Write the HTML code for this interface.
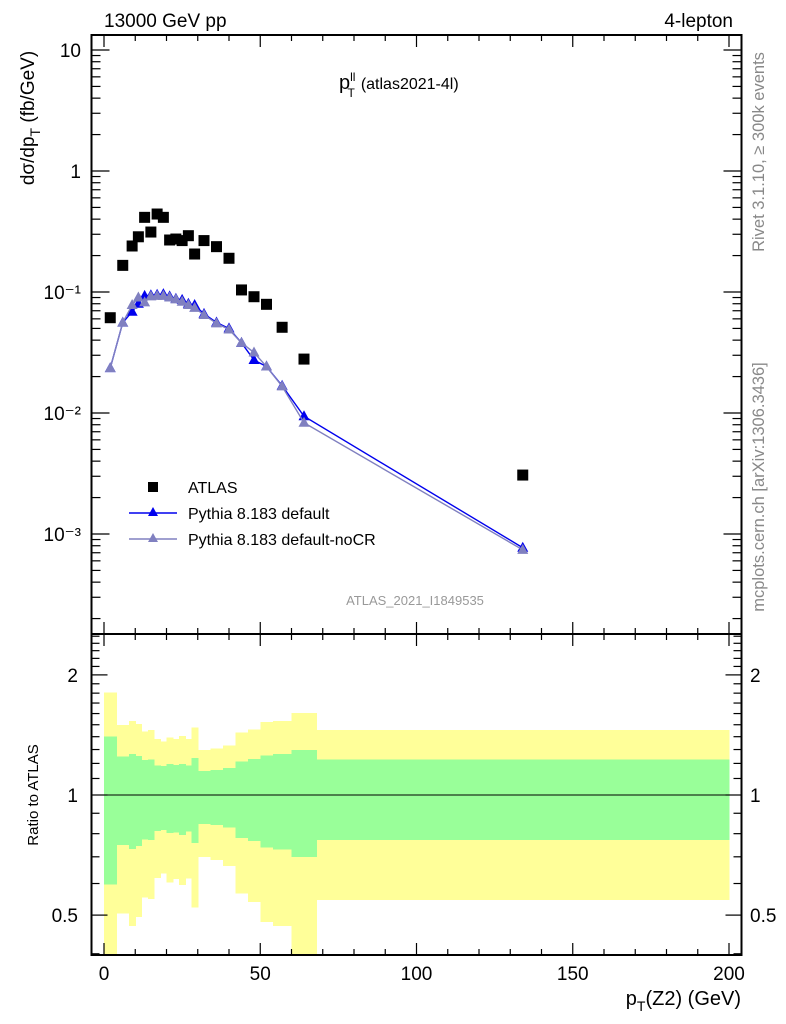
<!DOCTYPE html>
<html><head><meta charset="utf-8"><style>
html,body{margin:0;padding:0;background:#fff;}
svg{display:block;font-family:"Liberation Sans",sans-serif;}
</style></head><body>
<svg id="chart" width="786" height="1024" viewBox="0 0 786 1024" xmlns="http://www.w3.org/2000/svg">
<g id="gBands" shape-rendering="crispEdges"></g>
<g id="gMain"></g>
<g id="gAxes"></g>
<text x="104" y="27" font-size="19">13000 GeV pp</text>
<text x="733" y="27" font-size="19" text-anchor="end">4-lepton</text>
<text x="339" y="89" font-size="20">p<tspan font-size="12" dy="-8">ll</tspan><tspan font-size="12" dx="-8" dy="16">T</tspan><tspan font-size="16" dx="6" dy="-8">(atlas2021-4l)</tspan></text>
<text transform="translate(34,118) rotate(-90)" font-size="19" text-anchor="middle">dσ/dp<tspan font-size="14" dy="6">T</tspan><tspan dy="-6"> (fb/GeV)</tspan></text>
<text transform="translate(38,795) rotate(-90)" font-size="15" text-anchor="middle">Ratio to ATLAS</text>
<text x="741" y="1005" font-size="20" text-anchor="end">p<tspan font-size="14" dy="6">T</tspan><tspan dy="-6">(Z2) (GeV)</tspan></text>
<text transform="translate(764,152) rotate(-90)" font-size="16.5" fill="#888" text-anchor="middle">Rivet 3.1.10, ≥ 300k events</text>
<text transform="translate(764,487) rotate(-90)" font-size="16.5" fill="#888" text-anchor="middle">mcplots.cern.ch [arXiv:1306.3436]</text>
<text x="415" y="605" font-size="13" fill="#999" text-anchor="middle">ATLAS_2021_I1849535</text>
<g>
<rect x="148" y="482" width="10" height="10" fill="#000"/>
<text x="188" y="493" font-size="16">ATLAS</text>
<line x1="129" y1="513" x2="177" y2="513" stroke="#0000ee" stroke-width="1.5"/>
<path d="M153,507 L158,516 L148,516 Z" fill="#0000ee"/>
<text x="188" y="519" font-size="16">Pythia 8.183 default</text>
<line x1="129" y1="539" x2="177" y2="539" stroke="#8080c0" stroke-width="1.5"/>
<path d="M153,533 L158,542 L148,542 Z" fill="#8080c0"/>
<text x="188" y="545" font-size="16">Pythia 8.183 default-noCR</text>
</g>
</svg>
<script>
var binEdges=[0,4,8,10,12,14,16,18,20,22,24,26,28,30,34,38,42,46,50,54,60,68,200];
var xPoints=[2,6,9,11,13,15,17,19,21,23,25,27,29,32,36,40,44,48,52,57,64,134];
var atlasValues=[0.0613,0.166,0.240,0.286,0.414,0.313,0.441,0.414,0.269,0.274,0.266,0.292,0.206,0.266,0.237,0.190,0.104,0.0914,0.0791,0.0511,0.0279,0.00307];
var defaultValues=[0.0235,0.0558,0.0687,0.080,0.093,0.094,0.095,0.096,0.092,0.088,0.086,0.080,0.078,0.066,0.056,0.050,0.038,0.0274,0.0242,0.0168,0.0094,0.00077];
var nocrValues=[0.0235,0.0558,0.078,0.090,0.082,0.092,0.093,0.093,0.090,0.087,0.083,0.078,0.074,0.0646,0.055,0.049,0.038,0.0316,0.0242,0.0166,0.0083,0.00074];
var yellowHi=[1.805,1.498,1.533,1.507,1.444,1.455,1.381,1.360,1.395,1.381,1.405,1.381,1.478,1.297,1.306,1.332,1.433,1.461,1.524,1.533,1.603,1.455];
var greenHi=[1.400,1.247,1.267,1.252,1.224,1.229,1.187,1.182,1.196,1.189,1.196,1.187,1.238,1.149,1.155,1.169,1.215,1.231,1.257,1.267,1.297,1.229];
var greenLo=[0.597,0.749,0.732,0.745,0.774,0.771,0.812,0.817,0.802,0.806,0.794,0.809,0.759,0.846,0.841,0.828,0.780,0.767,0.738,0.731,0.699,0.771];
var yellowLo=[0.38,0.505,0.469,0.494,0.554,0.548,0.620,0.636,0.603,0.616,0.595,0.618,0.522,0.700,0.687,0.664,0.567,0.540,0.481,0.470,0.38,0.545];
var xTicks=[0,50,100,150,200];
var mainTicks=[1e-3,1e-2,1e-1,1,10];
var mainTickLabels=["10\u207B\u00B3","10\u207B\u00B2","10\u207B\u00B9","1","10"];
var ratioTicks=[0.5,1,2];
var ratioTickLabels=["0.5","1","2"];

(function(){
var NS="http://www.w3.org/2000/svg";
var PL=91.5,PR=741.5,PT=35,PMB=634,PB=955;
function sx(v){return 104+v*3.125;}
function sy(v){return 171-121*Math.log10(v);}
function syr(v){return 795-399*Math.log10(v);}
function mk(tag,attrs,parent){var e=document.createElementNS(NS,tag);for(var k in attrs){e.setAttribute(k,attrs[k]);}parent.appendChild(e);return e;}
var gb=document.getElementById('gBands'),gm=document.getElementById('gMain'),ga=document.getElementById('gAxes');
function clipR(v){return Math.min(PB,Math.max(PMB,syr(v)));}
var i,r;
for(i=0;i<binEdges.length-1;i++){
  var x1=sx(binEdges[i]),x2=sx(binEdges[i+1]);
  r=mk('rect',{x:x1,y:clipR(yellowHi[i]),width:x2-x1+0.5,height:clipR(yellowLo[i])-clipR(yellowHi[i]),fill:'#ffff99'},gb);
  
  
}
for(i=0;i<binEdges.length-1;i++){
  var x1b=sx(binEdges[i]),x2b=sx(binEdges[i+1]);
  r=mk('rect',{x:x1b,y:clipR(greenHi[i]),width:x2b-x1b+0.5,height:clipR(greenLo[i])-clipR(greenHi[i]),fill:'#99ff99'},gb);
  
  
}
r=mk('line',{x1:sx(binEdges[0]),x2:PR,y1:syr(1),y2:syr(1),stroke:'#000','stroke-width':1.3},gb);


function series(vals,color,name){
  var pts=xPoints.map(function(x,j){return sx(x)+','+sy(vals[j]);}).join(' ');
  var pl=mk('polyline',{points:pts,fill:'none',stroke:color,'stroke-width':1.4},gm);
  
  
  xPoints.forEach(function(x,j){var cx=sx(x),cy=sy(vals[j]);
    var p=mk('path',{d:'M'+cx+','+(cy-6)+' L'+(cx+5.5)+','+(cy+4)+' L'+(cx-5.5)+','+(cy+4)+' Z',fill:color},gm);
    
    });
}
series(defaultValues,'#0000ee','default');
series(nocrValues,'#8080c0','nocr');
xPoints.forEach(function(x,j){
  var s=mk('rect',{x:sx(x)-5.5,y:sy(atlasValues[j])-5.5,width:11,height:11,fill:'#000'},gm);
  
  
});
r=mk('rect',{x:PL,y:PT,width:PR-PL,height:PMB-PT,fill:'none',stroke:'#000','stroke-width':2},ga);


r=mk('rect',{x:PL,y:PMB,width:PR-PL,height:PB-PMB,fill:'none',stroke:'#000','stroke-width':2},ga);


for(var v=0;v<=200;v+=10){
  var len=(v%50===0)?12:6,xx=sx(v);
  [[PT,1],[PMB,-1],[PMB,1],[PB,-1]].forEach(function(a){
    var tk=mk('line',{x1:xx,x2:xx,y1:a[0],y2:a[0]+a[1]*len,stroke:'#000','stroke-width':1.2},ga);
    
    });
}
xTicks.forEach(function(v){var tt=mk('text',{x:sx(v),y:980,'font-size':19,'text-anchor':'middle'},ga);tt.textContent=String(v);
  
  });
for(var e=-4;e<=1;e++){for(var m=1;m<10;m++){
  var yv=sy(m*Math.pow(10,e));if(yv<PT||yv>PMB)continue;var ln=m===1?18:9;
  [[PL,1],[PR,-1]].forEach(function(a){var tk=mk('line',{x1:a[0],x2:a[0]+a[1]*ln,y1:yv,y2:yv,stroke:'#000','stroke-width':1.2},ga);
    
    });}}
mainTicks.forEach(function(v,j){var tt=mk('text',{x:81,y:sy(v)+7,'font-size':19,'text-anchor':'end'},ga);tt.textContent=mainTickLabels[j];
  
  });
[0.4,0.5,0.6,0.7,0.8,0.9,1,1.1,1.2,1.3,1.4,1.5,1.6,1.7,1.8,1.9,2,2.1,2.2,2.3,2.4,2.5].forEach(function(v){
  var y=syr(v);if(y<PMB||y>PB)return;var major=(v===0.5||v===1||v===2);var ln2=major?16:8;
  [[PL,1],[PR,-1]].forEach(function(a){var tk=mk('line',{x1:a[0],x2:a[0]+a[1]*ln2,y1:y,y2:y,stroke:'#000','stroke-width':1.2},ga);
    
    });});
ratioTicks.forEach(function(v,j){
  var tt=mk('text',{x:78,y:syr(v)+7,'font-size':19,'text-anchor':'end'},ga);tt.textContent=ratioTickLabels[j];
  
  
  tt=mk('text',{x:750,y:syr(v)+7,'font-size':19},ga);tt.textContent=ratioTickLabels[j];
  
  });
})();
</script>
</body></html>
